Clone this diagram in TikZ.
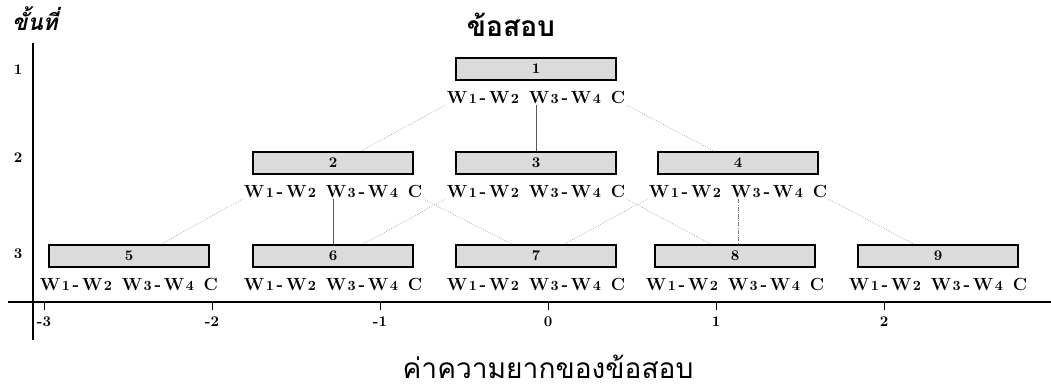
\documentclass[tikz,border=0pt]{standalone}
\usepackage{fontspec}
\usetikzlibrary{positioning}
\newfontfamily\thaifont[Script=Thai]{Loma}

% small digit next to a W
\newcommand{\dg}[1]{{\fontsize{10}{10}\selectfont#1}}
\newcommand{\wpair}[2]{W\kern1pt\dg{#1}\kern2pt-\kern2pt W\kern1pt\dg{#2}}
\newcommand{\wlab}{\wpair12\hspace{7pt}\wpair34\hspace{7pt}C}

\begin{document}
\begin{tikzpicture}[x=0.025cm, y=-0.025cm,
    itembox/.style={draw, line width=1.2pt, fill=gray!28, minimum width=4cm,
        minimum height=0.55cm, inner sep=0pt, font=\bfseries\fontsize{10.5}{11}\selectfont},
    itemtext/.style={inner sep=1pt, font=\bfseries\fontsize{12.5}{13}\selectfont},
    axlabel/.style={font=\bfseries\fontsize{10.5}{11}\selectfont},
    link/.style={gray, densely dotted, thin},
    stemlink/.style={gray!70!black, thin}]
    \useasboundingbox (0,0) rectangle (1051,392);

    % Axes
    \draw[line width=1pt] (33,43) -- (33,340);
    \draw[line width=1pt] (8,302) -- (1051,302);
    \foreach \v in {-3,...,2} {
        \draw (548+168*\v,302) -- (548+168*\v,310);
        \node[axlabel] at (548+168*\v,322) {\v};
    }
    \foreach \lv/\ly in {1/70, 2/158, 3/254}
        \node[axlabel] at (18,\ly) {\lv};

    % Titles
    \node[font=\thaifont\bfseries\itshape\fontsize{16}{19}\selectfont] (steps) at (35,19) {ขั้นที่};
    \node[font=\thaifont\bfseries\fontsize{20}{24}\selectfont] (items) at (511,25) {ข้อสอบ};
    \node[font=\thaifont\fontsize{20}{24}\selectfont] (diff) at (548,367) {ค่าความยากของข้อสอบ};

    % Item boxes
    \node[itembox] (b1) at (536,69) {1};
    \node[itembox] (b2) at (333,163) {2};
    \node[itembox] (b3) at (536,163) {3};
    \node[itembox] (b4) at (738,163) {4};
    \node[itembox] (b5) at (129,256) {5};
    \node[itembox] (b6) at (333,256) {6};
    \node[itembox] (b7) at (536,256) {7};
    \node[itembox] (b8) at (735,256) {8};
    \node[itembox] (b9) at (938,256) {9};

    % Labels under the boxes
    \foreach \i in {1,...,9}
        \node[itemtext, below=6pt of b\i] (t\i) {\wlab};

    % Links
    \draw[link] (t1.south west) -- ([xshift=0.7cm]b2.north);
    \draw[stemlink] (t1.south) -- (b3.north);
    \draw[link] (t1.south east) -- ([xshift=-0.6cm]b4.north);
    \draw[link] (t2.south west) -- ([xshift=0.8cm]b5.north);
    \draw[stemlink] (t2.south) -- (b6.north);
    \draw[link] (t2.south east) -- ([xshift=-0.6cm]b7.north);
    \draw[link] (t3.south west) -- ([xshift=0.75cm]b6.north);
    \draw[link] (t3.south east) -- ([xshift=-0.6cm]b8.north);
    \draw[link] (t4.south west) -- ([xshift=0.7cm]b7.north);
    \draw[gray, densely dashdotted, thin] (t4.south) -- (t4.south |- b8.north);
    \draw[link] (t4.south east) -- ([xshift=-0.6cm]b9.north);
\end{tikzpicture}
\end{document}
